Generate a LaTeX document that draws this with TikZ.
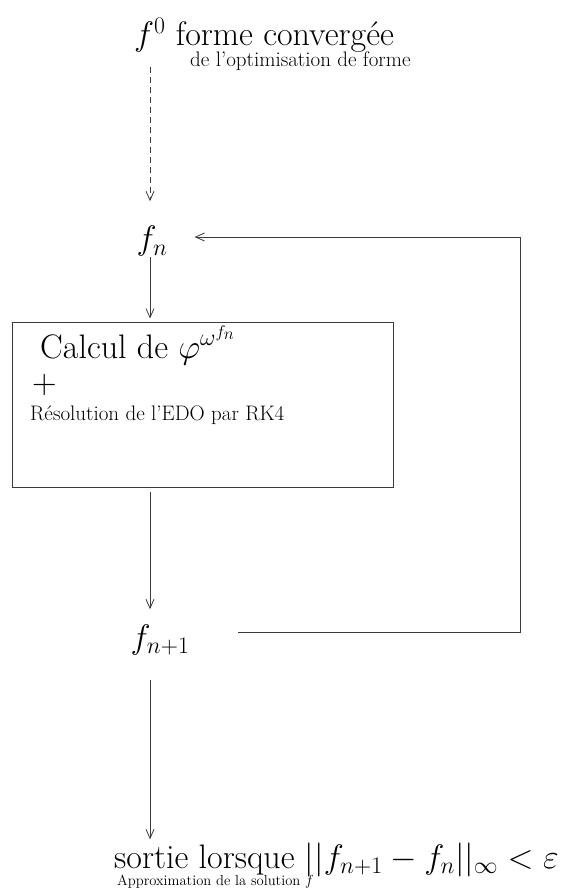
\RequirePackage{fix-cm}
\documentclass[tikz,border=0pt]{standalone}
\usepackage{amsmath}
\usepackage{amssymb}
\usepackage{xcolor}
\usepackage{tikz}
\usetikzlibrary{arrows.meta,positioning,calc}
\definecolor{flowgray}{HTML}{3A3A3A}
\newcommand{\bigtxt}{\fontsize{34}{40}\selectfont}
\newcommand{\midtxt}{\fontsize{21}{25}\selectfont}
\newcommand{\smalltxt}{\fontsize{14.6}{17}\selectfont}

\begin{document}
\begin{tikzpicture}[
    x=1pt,y=-1pt,
    lbl/.style={inner sep=0pt,anchor=base west},
    var/.style={inner sep=0pt,anchor=base,font=\bigtxt},
    calc box/.style={draw=flowgray,line width=0.9pt,minimum width=381pt,minimum height=165pt,inner sep=0pt},
    arr/.style={-{Straight Barb[length=9pt,width=8pt]},line width=0.8pt,draw=flowgray}
  ]
    \useasboundingbox (0,0) rectangle (568,890);
    % entree
    \node[lbl,font=\bigtxt] (f0) at (134,46) {$f^0$ forme convergée};
    \node[lbl,font=\midtxt] (f0sub) at (190,67) {de l'optimisation de forme};
    % boucle
    \node[var] (fn) at (152,250) {$f_n$};
    \node[calc box] (box) at (202.5,404.5) {};
    \node[lbl,font=\bigtxt] (calc) at (40,358) {Calcul de $\varphi^{\omega^{f_n}}$};
    \node[lbl,font=\bigtxt] (plus) at (32,393) {$+$};
    \node[lbl,font=\midtxt] (rk) at (30,420) {Résolution de l'EDO par RK4};
    \node[var] (fnp) at (160,648) {$f_{n+1}$};
    % sortie
    \node[lbl,font=\bigtxt] (out) at (114,868) {sortie lorsque $||f_{n+1}-f_n||_\infty<\varepsilon$};
    \node[lbl,font=\smalltxt] (outsub) at (117,885) {Approximation de la solution $f$};
    \coordinate (axis) at (150,0);
    \coordinate (loop) at (520,0);
    \draw[arr,dash pattern=on 6pt off 4pt] ($(f0.south -| axis)+(0,14)$) -- ($(fn.north -| axis)+(0,-25)$);
    \draw[arr] ($(fn.south -| axis)+(0,0)$) -- ($(box.north -| axis)+(0,-3)$);
    \draw[arr] ($(box.south -| axis)+(0,5)$) -- ($(fnp.north -| axis)+(0,-15)$);
    \draw[arr] ($(fnp.south -| axis)+(0,25)$) -- ($(out.north -| axis)+(0,-3)$);
    \draw[arr] ($(fnp.east)+(48,-7)$) -- ($(fnp.east -| loop)+(0,-7)$) -- ($(fn.east -| loop)+(0,-4.5)$) -- ($(fn.east)+(27,-4.5)$);
  \end{tikzpicture}
\end{document}
